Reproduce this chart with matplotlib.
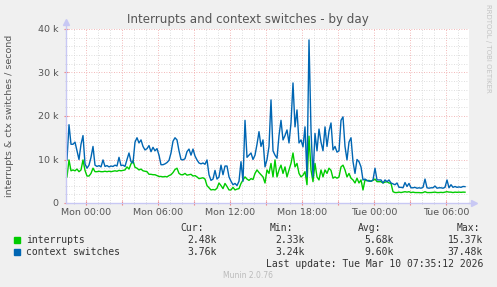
import numpy as np
import pandas as pd
import matplotlib
matplotlib.use("Agg")
import matplotlib.pyplot as plt
import matplotlib.dates as mdates
from matplotlib.patches import Rectangle
from matplotlib.ticker import MultipleLocator, FuncFormatter

# values in thousands, one sample every 10 minutes starting Sun 22:25
start = "2026-03-08 22:25"
interrupts = [
    6, 9.9, 7.4, 7.6, 7.4, 7.8, 7.2, 7.6, 9.9, 7.5,
    6.2, 6.2, 6.8, 8, 7.2, 7.2, 7.3, 7.2, 7.2, 7.3,
    7.2, 7.3, 7.2, 7.3, 7.4, 7.3, 7.5, 7.4, 7.5, 7.6,
    8.3, 7.8, 9, 9.7, 8.2, 8, 7.6, 7.8, 7.4, 7.3,
    7.2, 6.6, 6.6, 6.5, 6.5, 6.3, 6.1, 6.1, 6, 6.1,
    6, 6.3, 6.5, 7, 7.7, 8, 6.8, 6.5, 6.5, 6.8,
    6.4, 6.5, 6.6, 6.2, 6.3, 6, 5.6, 5.7, 5.8, 5.5,
    4, 3.5, 3, 3.1, 3, 3.4, 4.6, 4, 3.3, 4.5,
    3.8, 3, 3, 3.6, 3, 3.2, 3.3, 4.5, 5.3, 6,
    5.5, 5.2, 5.6, 5.4, 6.8, 7.6, 7, 6.5, 6, 4.6,
    7.6, 6.8, 9.1, 6, 9.9, 6, 7.6, 8.7, 6.8, 8.3,
    6, 7.6, 9.1, 11.5, 8.3, 9.1, 6.8, 6, 6.4, 7.2,
    4.2, 15.37, 7.6, 4.9, 9.1, 6, 5.3, 7.6, 6, 7.6,
    6.8, 8, 7.5, 5.7, 6, 5.7, 6, 8.3, 8.7, 7.6,
    6, 6.8, 5.7, 5.3, 4.6, 5.7, 4.6, 5.3, 3, 5.3,
    5.1, 5.2, 5, 5.2, 5.5, 4.9, 4.9, 4.9, 4.6, 4.8,
    4.9, 4.6, 4.5, 2.6, 2.4, 2.4, 2.5, 2.4, 2.5, 2.6,
    2.5, 2.6, 2.4, 2.5, 2.4, 2.4, 2.4, 2.35, 2.4, 2.6,
    2.4, 2.4, 2.4, 2.45, 2.5, 2.4, 2.4, 2.45, 2.4, 2.5,
    2.6, 2.5, 2.5, 2.4, 2.5, 2.45, 2.5, 2.45, 2.5, 2.48,
]
ctx_switches = [
    10, 18, 13.5, 13.5, 14, 12, 10, 13.5, 15.5, 9,
    8, 8.7, 10.5, 13, 8.7, 8.4, 8.6, 8.3, 9.9, 8.4,
    8.6, 8.3, 8.5, 8.4, 8.7, 8.5, 10.5, 8.6, 8.7, 8.4,
    10, 11.5, 9.5, 9.2, 14, 15, 13.8, 14.5, 13, 12.2,
    12.5, 13.2, 11.8, 12.8, 12, 12.5, 11, 8.8, 8.8, 9,
    9.3, 9.8, 11.5, 14.2, 15, 14.5, 12, 10, 9.9, 10.2,
    11.8, 12.4, 11, 12.4, 10.8, 9.9, 9.2, 9.0, 9.2, 8.9,
    9.9, 6.5, 5.2, 5.5, 7.5, 5.5, 6, 8.7, 6.5, 8.5,
    8.5, 6, 5, 4.2, 4.5, 4, 5, 9.5, 5, 19,
    10.5, 11, 11.5, 10, 11, 13.5, 16.4, 13, 14.5, 8.3,
    10, 13, 23.7, 12, 11, 10.3, 15.5, 19, 14.5, 15.5,
    16.8, 13.8, 18.4, 27.6, 17.5, 21.4, 13.8, 14.5, 12.9, 17.5,
    6, 37.48, 16.8, 6, 16, 12, 17, 14, 12, 17.5,
    13, 16.5, 18.4, 12.2, 13, 11.7, 12, 19, 19.8, 13,
    9.9, 14, 15, 9.5, 6.8, 10, 9.5, 8.3, 5.3, 5.5,
    5.2, 5, 5, 5.3, 8, 5.3, 5.3, 5.3, 4.6, 5.3,
    4.9, 5.3, 4.6, 4.4, 4.2, 4.6, 3.6, 3.6, 3.5, 4.7,
    3.8, 4.5, 3.5, 3.5, 3.6, 3.4, 3.5, 3.4, 3.6, 5.5,
    3.5, 3.4, 3.5, 3.5, 3.9, 3.4, 3.5, 3.5, 3.4, 3.6,
    5.3, 3.5, 4.2, 3.6, 3.8, 3.6, 3.7, 3.6, 3.8, 3.76,
]

labels = ["interrupts", "context switches"]
colors = ["#00cc00", "#0066b3"]
cur = ["2.48k", "3.76k"]
vmin = ["2.33k", "3.24k"]
avg = ["5.68k", "9.60k"]
vmax = ["15.37k", "37.48k"]

W, H = 497, 287
fig = plt.figure(figsize=(W / 100, H / 100), dpi=100, facecolor="#f0f0f0")

def fx(px):
    return px / W

def fy(py):
    return 1 - py / H

ax = fig.add_axes([fx(66), fy(203), (469 - 66) / W, (203 - 29) / H])
ax.set_facecolor("white")

times = pd.date_range(start, periods=len(ctx_switches), freq="10min")
ax.plot(times, np.array(interrupts) * 1000, color=colors[0], lw=1.0)
ax.plot(times, np.array(ctx_switches) * 1000, color=colors[1], lw=1.0)

ax.set_xlim(pd.Timestamp("2026-03-08 22:20"), pd.Timestamp("2026-03-10 07:55"))
ax.set_ylim(0, 40000)

ax.xaxis.set_major_locator(mdates.HourLocator(byhour=range(0, 24, 3)))
ax.xaxis.set_minor_locator(mdates.HourLocator())

def xfmt(v, pos):
    d = mdates.num2date(v)
    return d.strftime("%a %H:%M") if d.hour % 6 == 0 else ""

ax.xaxis.set_major_formatter(FuncFormatter(xfmt))
ax.yaxis.set_major_locator(MultipleLocator(10000))
ax.yaxis.set_minor_locator(MultipleLocator(2000))
ax.yaxis.set_major_formatter(FuncFormatter(lambda v, p: "0" if v == 0 else f"{v/1000:.0f} k"))

ax.grid(which="minor", color="#d4d4d4", linestyle=(0, (1, 2)), lw=0.6)
ax.grid(which="major", color="#eea0a0", linestyle=(0, (1, 2)), lw=0.6)
ax.set_axisbelow(True)

for s in ["top", "right"]:
    ax.spines[s].set_visible(False)
for s in ["left", "bottom"]:
    ax.spines[s].set_color("#c8c8f4")
    ax.spines[s].set_linewidth(1.0)

ax.tick_params(which="major", axis="x", length=3, color="#f08080", direction="inout",
               labelsize=6.8, labelcolor="#555555", pad=2)
ax.tick_params(which="minor", axis="x", length=2, color="#cccccc", direction="inout")
ax.tick_params(which="major", axis="y", length=3, color="#f08080", direction="inout",
               labelsize=6.8, labelcolor="#555555", pad=4)
ax.tick_params(which="minor", axis="y", length=2, color="#cccccc", direction="inout")

# axis arrowheads
ax.plot([0], [1.04], marker="^", ms=4, color="#c8c8f4", transform=ax.transAxes, clip_on=False)
ax.plot([1.012], [0], marker=">", ms=4, color="#c8c8f4", transform=ax.transAxes, clip_on=False)
ax.plot([0, 0], [1.0, 1.04], color="#c8c8f4", lw=1.0, transform=ax.transAxes, clip_on=False)
ax.plot([1.0, 1.012], [0, 0], color="#c8c8f4", lw=1.0, transform=ax.transAxes, clip_on=False)

fig.text(fx(248), fy(19), "Interrupts and context switches - by day", ha="center", va="center",
         fontsize=8.6, color="#555555")
fig.text(fx(10), fy(116), "interrupts & ctx switches / second", rotation=90, ha="center",
         va="center", fontsize=6.8, color="#555555")
fig.text(fx(488), fy(4), "RRDTOOL / TOBI OETIKER", rotation=270, ha="center", va="top",
         fontsize=5, color="#c4c4c4")

mono = dict(family="DejaVu Sans Mono", fontsize=7, color="#333333", va="center")
for txt, px in zip(["Cur:", "Min:", "Avg:", "Max:"], [204, 293, 381, 480]):
    fig.text(fx(px), fy(228), txt, ha="right", **mono)

cols = [(cur, 217), (vmin, 305), (avg, 394), (vmax, 483)]
for i, name in enumerate(labels):
    py = 240 + 12 * i
    fig.add_artist(Rectangle((fx(14), fy(py + 3)), 6 / W, 6 / H, transform=fig.transFigure,
                             color=colors[i]))
    fig.text(fx(26), fy(py), name, ha="left", **mono)
    for vals, px in cols:
        fig.text(fx(px), fy(py), vals[i], ha="right", **mono)

fig.text(fx(483), fy(264), "Last update: Tue Mar 10 07:35:12 2026", ha="right", **mono)
fig.text(fx(248), fy(276), "Munin 2.0.76", ha="center", va="center", fontsize=5.5, color="#bbbbbb")

fig.savefig("out.png", dpi=100, facecolor=fig.get_facecolor())
